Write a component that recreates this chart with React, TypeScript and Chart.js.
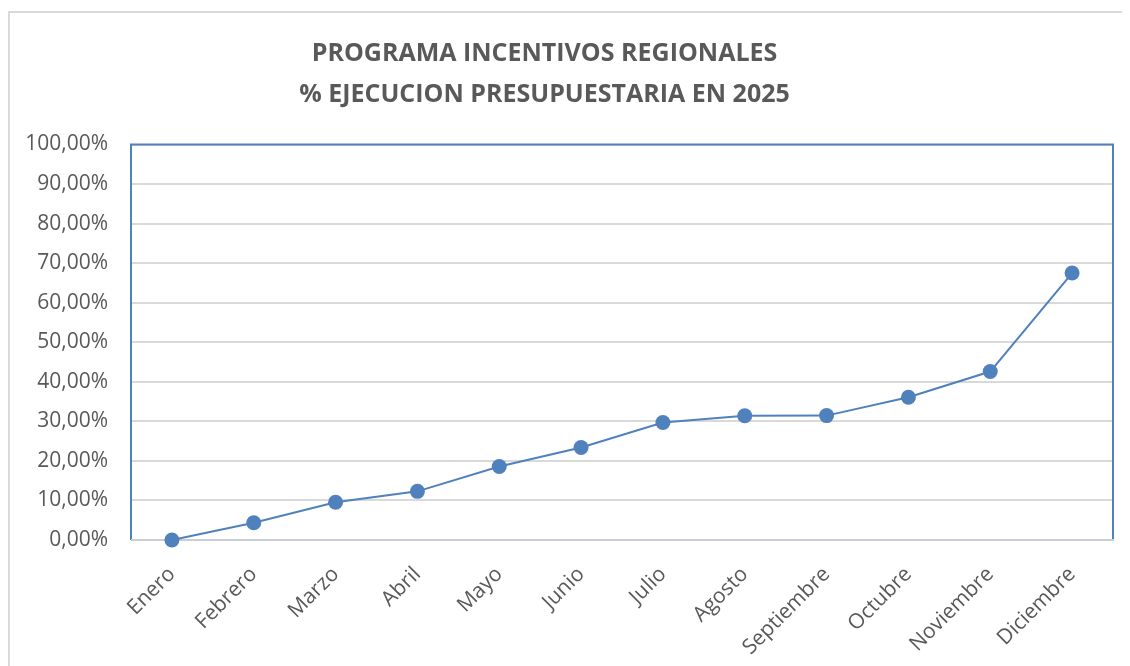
import React, { useEffect, useRef } from "react";
import { Chart, registerables } from "chart.js";

Chart.register(...registerables);

const titleLines = ["PROGRAMA INCENTIVOS REGIONALES", "% EJECUCION PRESUPUESTARIA EN 2025"];
const months = ["Enero", "Febrero", "Marzo", "Abril", "Mayo", "Junio", "Julio", "Agosto", "Septiembre", "Octubre", "Noviembre", "Diciembre"];
const execution = [0, 4.36, 9.55, 12.3, 18.6, 23.4, 29.7, 31.4, 31.45, 36.1, 42.6, 67.5];
const yMin = 0;
const yMax = 100;
const yStep = 10;

const FONT = "'Open Sans', 'DejaVu Sans', sans-serif";
const TEXT = "#595959";
const BLUE = "#4f81bd";

const plotBorder = {
  id: "plotBorder",
  afterLayout(chart: any) {
    // title in the reference sits slightly left of the canvas centre
    if (chart.titleBlock) {
      chart.titleBlock.right -= 34;
    }
  },
  beforeDatasetsDraw(chart: any) {
    const { ctx, chartArea } = chart;
    const { left, right, top, bottom } = chartArea;
    ctx.save();
    ctx.strokeStyle = BLUE;
    ctx.lineWidth = 2;
    ctx.beginPath();
    ctx.moveTo(left, bottom);
    ctx.lineTo(left, top);
    ctx.lineTo(right, top);
    ctx.lineTo(right, bottom);
    ctx.stroke();
    ctx.strokeStyle = "#c9ced6";
    ctx.beginPath();
    ctx.moveTo(left, bottom);
    ctx.lineTo(right + 1, bottom);
    ctx.stroke();
    ctx.restore();
  },
};

export default function App() {
  const ref = useRef<HTMLCanvasElement>(null);
  useEffect(() => {
    if (!ref.current) return;
    const chart = new Chart(ref.current, {
      type: "line",
      data: {
        labels: months,
        datasets: [
          {
            data: execution,
            borderColor: BLUE,
            backgroundColor: BLUE,
            borderWidth: 2,
            pointRadius: 7.5,
            pointBackgroundColor: BLUE,
            pointBorderColor: BLUE,
            pointBorderWidth: 0,
            tension: 0,
            clip: false,
          },
        ],
      },
      options: {
        responsive: false,
        animation: false,
        layout: { padding: { left: 0, right: 17, top: 0, bottom: 0 } },
        plugins: {
          legend: { display: false },
          tooltip: { enabled: false },
          title: {
            display: true,
            text: titleLines,
            color: TEXT,
            font: { family: FONT, size: 25, weight: "bold", lineHeight: 1.65 },
            padding: { top: 20, bottom: 29 },
          },
        },
        scales: {
          x: {
            offset: true,
            grid: { display: false, drawTicks: false },
            border: { display: false },
            ticks: {
              color: TEXT,
              font: { family: FONT, size: 21 },
              maxRotation: 45,
              minRotation: 45,
              padding: 22,
              autoSkip: false,
            },
            afterFit(scale: any) {
              scale.height = 126;
            },
          },
          y: {
            min: yMin,
            max: yMax,
            grid: { color: "#d9d9d9", lineWidth: 2, drawTicks: false },
            border: { display: false },
            ticks: {
              stepSize: yStep,
              color: TEXT,
              font: { family: FONT, size: 21 },
              padding: 23,
              callback: (v: any) => Number(v).toFixed(2).replace(".", ",") + "%",
            },
            afterFit(scale: any) {
              scale.width = 121;
            },
          },
        },
      },
      plugins: [plotBorder],
    });
    return () => chart.destroy();
  }, []);

  return (
    <div
      style={{
        marginTop: 3,
        width: 1120,
        height: 653,
        borderTop: "2px solid #d9d9d9",
        borderLeft: "2px solid #d9d9d9",
        background: "#fff",
        overflow: "hidden",
      }}
    >
      <canvas ref={ref} width={1120} height={653} style={{ display: "block" }} />
    </div>
  );
}
